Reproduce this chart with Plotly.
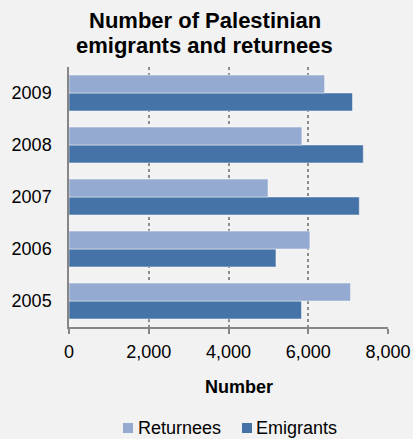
import plotly.graph_objects as go

# Data
years = ["2005", "2006", "2007", "2008", "2009"]
returnees = [7060, 6040, 4990, 5840, 6410]
emigrants = [5830, 5190, 7280, 7380, 7110]
x_ticks = [0, 2000, 4000, 6000, 8000]
x_tick_labels = ["0", "2,000", "4,000", "6,000", "8,000"]

RET_COLOR = "#95AAD1"
EMI_COLOR = "#4573A7"
BG = "#F2F2F2"
AXIS = "#868686"
FONT = "Liberation Sans, Arial, sans-serif"

W, H = 413, 439
L, R, T, B = 69, 25, 67, 112
pw, ph = W - L - R, H - T - B


def px(x):
    return (x - L) / pw


def py(y):
    return (H - B - y) / ph


fig = go.Figure()
fig.add_trace(go.Bar(
    y=years, x=emigrants, name="Emigrants", orientation="h",
    marker=dict(color=EMI_COLOR, line=dict(color="rgba(255,255,255,0.45)", width=1)),
))
fig.add_trace(go.Bar(
    y=years, x=returnees, name="Returnees", orientation="h",
    marker=dict(color=RET_COLOR, line=dict(color="rgba(255,255,255,0.45)", width=1)),
))

annotations = [
    dict(text="<b>Number of Palestinian</b>", x=px(205), y=py(21), xref="paper", yref="paper",
         showarrow=False, xanchor="center", yanchor="middle", font=dict(size=22, color="#000")),
    dict(text="<b>emigrants and returnees</b>", x=px(204), y=py(45), xref="paper", yref="paper",
         showarrow=False, xanchor="center", yanchor="middle", font=dict(size=22, color="#000")),
    dict(text="<b>Number</b>", x=px(239), y=py(387), xref="paper", yref="paper",
         showarrow=False, xanchor="center", yanchor="middle", font=dict(size=18, color="#000")),
    dict(text="Returnees", x=px(136), y=py(428), xref="paper", yref="paper",
         showarrow=False, xanchor="left", yanchor="middle", font=dict(size=18, color="#000")),
    dict(text="Emigrants", x=px(254), y=py(428), xref="paper", yref="paper",
         showarrow=False, xanchor="left", yanchor="middle", font=dict(size=18, color="#000")),
]

shapes = [
    dict(type="rect", xref="paper", yref="paper", x0=px(123), x1=px(133), y0=py(433), y1=py(423),
         fillcolor=RET_COLOR, line=dict(width=0)),
    dict(type="rect", xref="paper", yref="paper", x0=px(242), x1=px(252), y0=py(433), y1=py(423),
         fillcolor=EMI_COLOR, line=dict(width=0)),
]

fig.update_layout(
    template="none",
    width=W, height=H,
    margin=dict(l=L, r=R, t=T, b=B, pad=0, autoexpand=False),
    paper_bgcolor=BG, plot_bgcolor=BG,
    barmode="group", bargap=0.31, bargroupgap=0,
    showlegend=False,
    font=dict(family=FONT, size=18, color="#000"),
    annotations=annotations, shapes=shapes,
    xaxis=dict(
        range=[0, 8000], tickvals=x_ticks, ticktext=x_tick_labels,
        showgrid=True, gridcolor="#8C8C8C", griddash="dot", gridwidth=1.5,
        showline=True, linecolor=AXIS, linewidth=1.5,
        ticks="outside", ticklen=5, tickcolor=AXIS, tickwidth=1.5,
        ticklabelstandoff=3,
        zeroline=False, fixedrange=True, automargin=False,
        tickfont=dict(size=18, color="#000"),
    ),
    yaxis=dict(
        type="category", categoryorder="array", categoryarray=years,
        showgrid=False, showline=True, linecolor=AXIS, linewidth=1.5,
        ticks="", ticklabelstandoff=12, zeroline=False, fixedrange=True, automargin=False,
        tickfont=dict(size=18, color="#000"),
    ),
)

fig.write_html("out.html", config=dict(displayModeBar=False))
